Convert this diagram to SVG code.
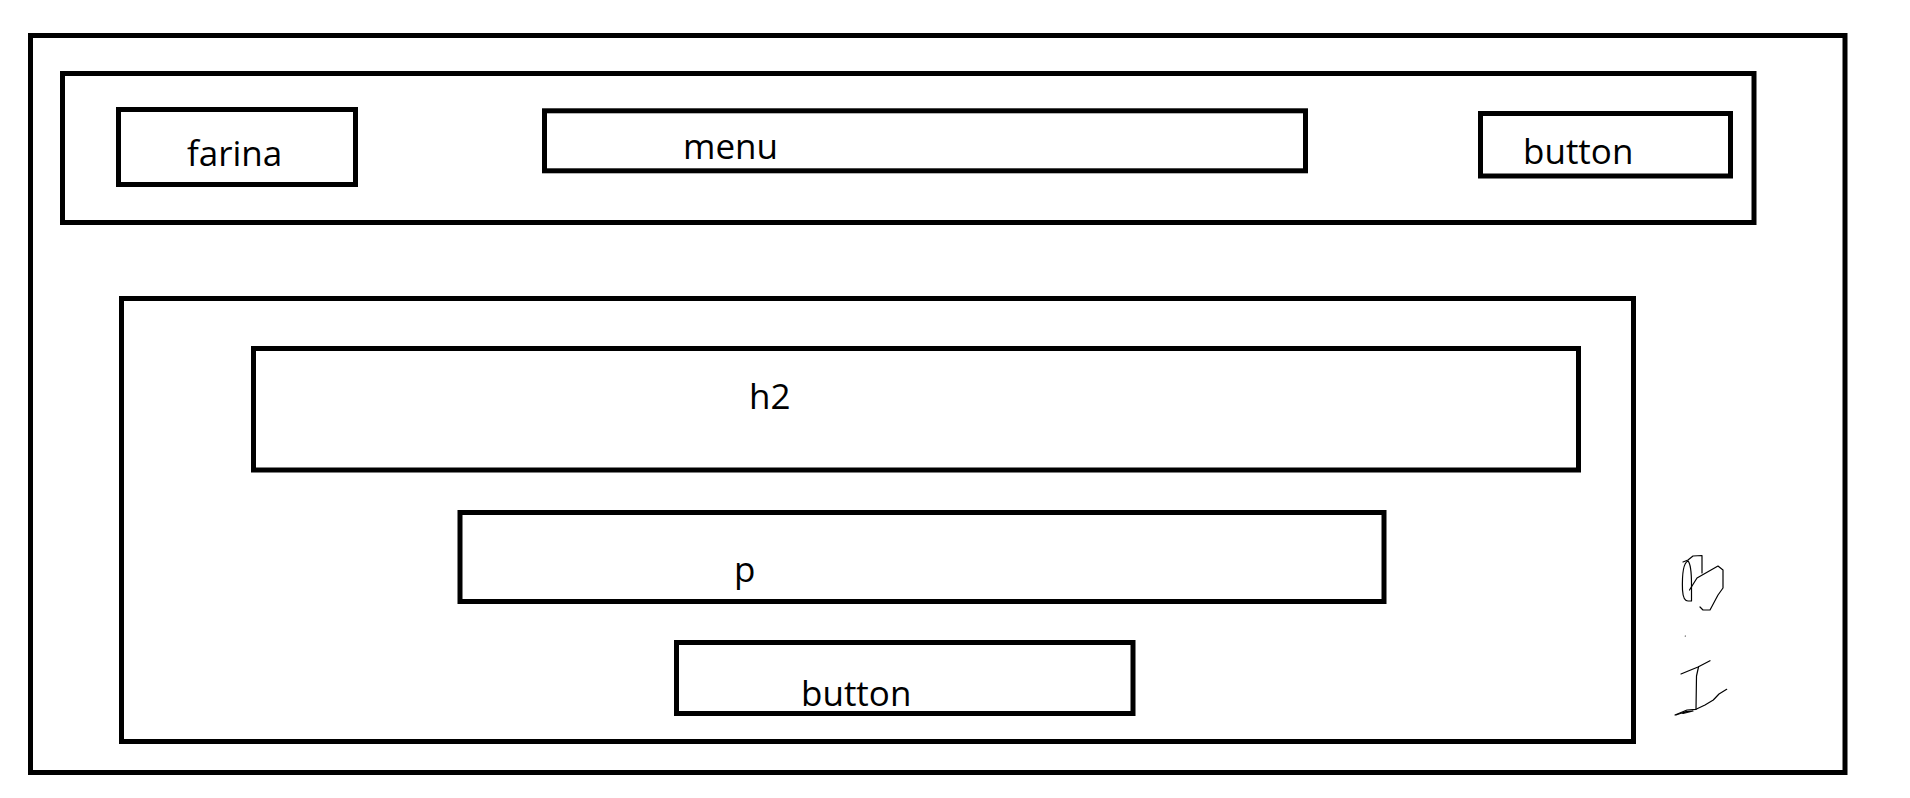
<svg xmlns="http://www.w3.org/2000/svg" width="1910" height="798" viewBox="0 0 1910 798">
<style>
.box{fill:none;stroke:#000;stroke-width:5}
.lbl{font-family:"Open Sans","Noto Sans",sans-serif;font-size:35px;fill:#000}
.ink{fill:none;stroke:#000;stroke-width:1.2;stroke-linejoin:round;stroke-linecap:round}
</style>
<rect width="1910" height="798" fill="#fff"/>
<g id="page"><rect class="box" x="30.5" y="35.5" width="1814.5" height="737"/></g>
<g id="header"><rect class="box" x="62.5" y="73.5" width="1691.5" height="149"/></g>
<g id="farina"><rect class="box" x="118.5" y="109.5" width="237" height="75"/><text class="lbl" x="187" y="165.5">farina</text></g>
<g id="menu"><rect class="box" x="544.5" y="110.8" width="761" height="60"/><text class="lbl" x="683" y="159">menu</text></g>
<g id="header-button"><rect class="box" x="1480.5" y="113.5" width="250" height="62.5"/><text class="lbl" x="1523" y="163.5">button</text></g>
<g id="main"><rect class="box" x="121.5" y="298.5" width="1512" height="443"/></g>
<g id="h2"><rect class="box" x="253.5" y="348.5" width="1325" height="121.5"/><text class="lbl" x="749" y="409.3">h2</text></g>
<g id="p"><rect class="box" x="460" y="512.5" width="924" height="89"/><text class="lbl" x="734" y="581.5">p</text></g>
<g id="main-button"><rect class="box" x="676.5" y="642.5" width="456.5" height="71"/><text class="lbl" x="801" y="706">button</text></g>
<g id="connectors"></g>
<g id="scribbles">
<path class="ink" d="M1683,562 L1688,560 L1693,556 L1702,555.5 L1702,573"/>
<path class="ink" d="M1689.5,590 L1697,578 L1704,574 L1718,566 L1723,570 L1723,588 L1718,595 L1710,610 L1703,610 L1700,607"/>
<path class="ink" d="M1688,561 C1683,563 1682,575 1682.5,590 C1683,598 1685,601 1688,601 L1691.5,601 L1691.5,585 C1691.5,572 1690,563 1688,561"/>
<circle cx="1685.3" cy="636" r="0.6" fill="#000"/>
<path class="ink" d="M1681,674 L1687,671.5 L1698,667 L1710,660.7"/>
<path class="ink" d="M1698.5,667 L1696.5,676 L1696,709.3"/>
<path class="ink" d="M1675,715 L1687,710 L1696,709.3 L1705,705 L1713.3,700 L1719,694 L1726.7,689.3"/>
<path class="ink" d="M1676,715 L1686,711.5 L1693,711 L1683,713.5"/>
</g>
</svg>
